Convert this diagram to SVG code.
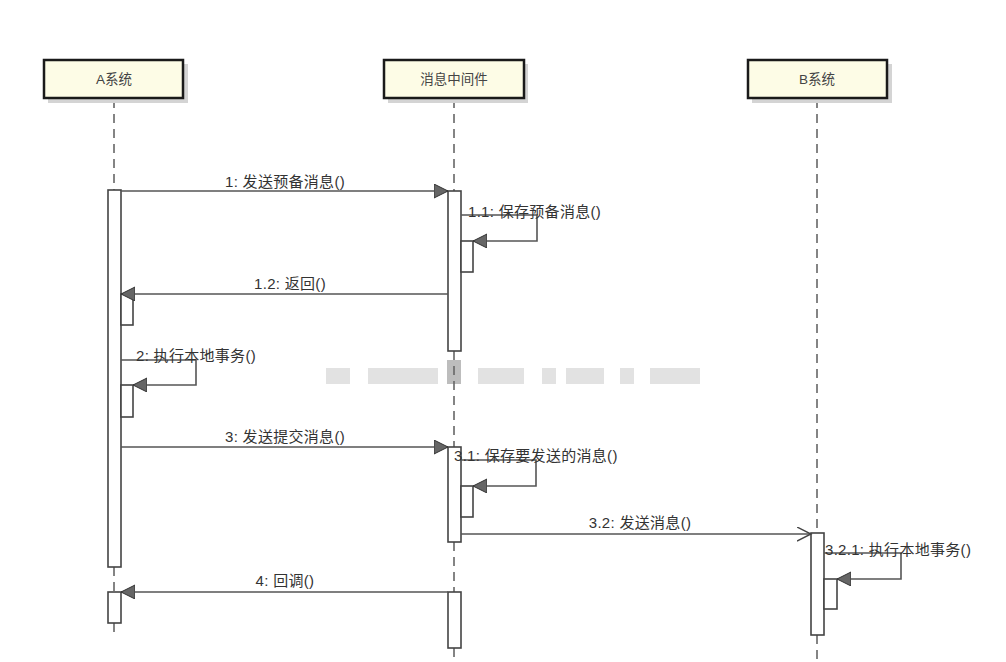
<svg xmlns="http://www.w3.org/2000/svg" width="1006" height="662" viewBox="0 0 1006 662">
<defs>
<style>
.hdr{fill:#fdfce6;stroke:#1a1a1a;stroke-width:2.5}
.shd{fill:#d4d4d4}
.ht{font-family:"Liberation Sans","Noto Sans CJK SC",sans-serif;font-size:13.5px;fill:#444;text-anchor:middle}
.life{stroke:#666;stroke-width:1.6;stroke-dasharray:9,6;fill:none}
.act{fill:#fff;stroke:#444;stroke-width:1.6}
.msg{stroke:#555;stroke-width:1.6;fill:none}
.lb{font-family:"Liberation Sans","Noto Sans CJK SC",sans-serif;font-size:15px;letter-spacing:0.3px;fill:#333}
.wm{fill:#e2e2e2}
</style>
<marker id="fill" markerUnits="userSpaceOnUse" markerWidth="18" markerHeight="18" refX="14" refY="7" orient="auto">
<path d="M0,0 L14,7 L0,14 z" fill="#666" stroke="#333" stroke-width="1"/>
</marker>
<marker id="open" markerUnits="userSpaceOnUse" markerWidth="18" markerHeight="18" refX="14" refY="7" orient="auto">
<path d="M0,0 L14,7 L0,14" fill="none" stroke="#444" stroke-width="1.4"/>
</marker>
</defs>
<rect width="1006" height="662" fill="#fff"/>

<g id="watermark">
<rect class="wm" x="326" y="368" width="24" height="16"/>
<rect class="wm" x="368" y="368" width="70" height="16"/>
<rect x="447" y="360" width="14" height="24" fill="#bdbdbd"/>
<rect class="wm" x="478" y="368" width="46" height="16"/>
<rect class="wm" x="542" y="368" width="14" height="16"/>
<rect class="wm" x="566" y="368" width="38" height="16"/>
<rect class="wm" x="620" y="368" width="14" height="16"/>
<rect class="wm" x="650" y="368" width="50" height="16"/>
</g>

<g id="lifelines">
<path class="life" d="M114,99 V190 M114,567 V592 M114,623 V636"/>
<path class="life" d="M454,99 V191 M454,351 V447 M454,542 V592 M454,648 V660"/>
<path class="life" d="M817,99 V533 M817,635 V662"/>
</g>

<g id="nodeA">
<rect class="shd" x="48" y="64" width="140" height="39"/>
<rect class="hdr" x="44" y="60" width="139" height="38"/>
<text class="ht" x="114" y="84">A系统</text>
</g>
<g id="nodeMQ">
<rect class="shd" x="388" y="64" width="140" height="39"/>
<rect class="hdr" x="384" y="60" width="140" height="38"/>
<text class="ht" x="454" y="84">消息中间件</text>
</g>
<g id="nodeB">
<rect class="shd" x="752" y="64" width="140" height="39"/>
<rect class="hdr" x="748" y="60" width="139" height="38"/>
<text class="ht" x="817" y="84">B系统</text>
</g>

<g id="activations">
<rect class="act" x="108" y="190" width="13" height="377"/>
<rect class="act" x="121" y="294" width="12" height="31"/>
<rect class="act" x="121" y="385" width="12" height="32"/>
<rect class="act" x="108" y="592" width="13" height="31"/>
<rect class="act" x="448" y="191" width="13" height="160"/>
<rect class="act" x="461" y="241" width="12" height="31"/>
<rect class="act" x="448" y="447" width="13" height="95"/>
<rect class="act" x="461" y="486" width="12" height="31"/>
<rect class="act" x="448" y="592" width="13" height="56"/>
<rect class="act" x="811" y="533" width="13" height="102"/>
<rect class="act" x="824" y="579" width="13" height="30"/>
</g>

<g id="connectors">
<path class="msg" d="M121,191 H448" marker-end="url(#fill)"/>
<path class="msg" d="M461,215 H537 V241 H473" marker-end="url(#fill)"/>
<path class="msg" d="M448,294 H121" marker-end="url(#fill)"/>
<path class="msg" d="M121,360 H196 V385 H133" marker-end="url(#fill)"/>
<path class="msg" d="M121,447 H448" marker-end="url(#fill)"/>
<path class="msg" d="M461,460 H536 V486 H473" marker-end="url(#fill)"/>
<path class="msg" d="M461,534 H811" marker-end="url(#open)"/>
<path class="msg" d="M824,553 H901 V579 H837" marker-end="url(#fill)"/>
<path class="msg" d="M448,592 H121" marker-end="url(#fill)"/>
</g>

<g id="labels">
<text class="lb" x="285" y="187" text-anchor="middle">1: 发送预备消息()</text>
<text class="lb" x="468" y="217">1.1: 保存预备消息()</text>
<text class="lb" x="290" y="289" text-anchor="middle">1.2: 返回()</text>
<text class="lb" x="136" y="361">2: 执行本地事务()</text>
<text class="lb" x="285" y="442" text-anchor="middle">3: 发送提交消息()</text>
<text class="lb" x="454" y="461">3.1: 保存要发送的消息()</text>
<text class="lb" x="640" y="528" text-anchor="middle">3.2: 发送消息()</text>
<text class="lb" x="825" y="555">3.2.1: 执行本地事务()</text>
<text class="lb" x="285" y="586" text-anchor="middle">4: 回调()</text>
</g>
</svg>
